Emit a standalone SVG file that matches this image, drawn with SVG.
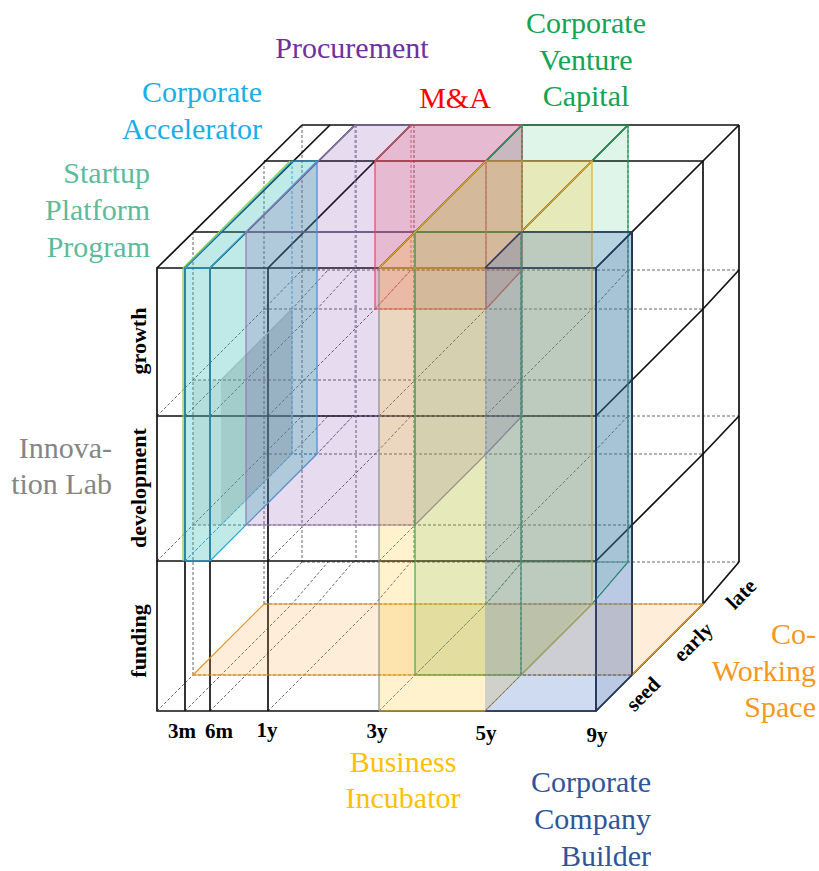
<svg xmlns="http://www.w3.org/2000/svg" width="819" height="871" viewBox="0 0 819 871">
  <style>
    .solid { fill: none; stroke: #111; stroke-width: 1.7; }
    .dash { fill: none; stroke: #555; stroke-width: 0.9; stroke-dasharray: 3 2; }
    .edge { fill: none; stroke-width: 1.2; }
    .hid { fill: none; stroke-width: 0.9; stroke-dasharray: 3 2; }
  </style>

  <rect width="819" height="871" fill="#ffffff"/>

  <!-- hidden grid lines (left, bottom, back and interior) -->
  <g id="grid-hidden" class="dash">
    <!-- left face verticals -->
    <path d="M193,232 V675 M264,161 V604 M302,125 V562"/>
    <!-- left face diagonals -->
    <path d="M157,416 L193,380 L264,309 L302,270 M157,561 L193,525 L264,454 L302,416 M157,711 L193,675 L264,604 L302,562"/>
    <!-- horizontals on the depth planes -->
    <path d="M193,380 H632 M193,525 H632 M193,675 H632"/>
    <path d="M264,309 H703 M264,454 H703 M264,604 H703"/>
    <path d="M302,270 H739 M302,416 H739 M302,562 H739"/>
    <!-- back face verticals -->
    <path d="M356,125 V562 M414,125 V562 M522,125 V562 M628,125 V562"/>
    <!-- interior diagonals -->
    <path d="M185,416 L221,380 L292,309 L328,270 M210,416 L246,380 L317,309 L353,270 M268,416 L304,380 L375,309 L411,270 M379,416 L415,380 L486,309 L522,270 M485,416 L521,380 L592,309 L628,270"/>
    <path d="M185,561 L221,525 L292,454 L328,416 M210,561 L246,525 L317,454 L353,416 M268,561 L304,525 L375,454 L411,416 M379,561 L415,525 L486,454 L522,416 M485,561 L521,525 L592,454 L628,416"/>
    <path d="M185,711 L221,675 L292,604 L328,562 M210,711 L246,675 L317,604 L353,562 M268,711 L304,675 L375,604 L411,562 M379,711 L415,675 L486,604 L522,562 M485,711 L521,675 L592,604 L628,562"/>
  </g>

  <!-- visible grid lines (front, top and right faces) -->
  <g id="grid-visible" class="solid">
    <path d="M157,268 H596 V711 H157 Z"/>
    <path d="M157,416 H596 M157,561 H596"/>
    <path d="M185,268 V711 M210,268 V711 M268,268 V711"/>
    <path d="M193,232 H632 M264,161 H703 M302,125 H739"/>
    <path d="M157,268 L302,125 M185,268 L330,125 M210,268 L355,125 M268,268 L411,125 M379,268 L522,125 M485,268 L628,125 M596,268 L739,125"/>
    <path d="M632,232 V675 M703,161 V604 M739,125 V562"/>
    <path d="M596,416 L632,380 L703,309 L739,270 M596,561 L632,525 L703,454 L739,416 M596,711 L632,675 L703,604 L739,562"/>
  </g>

  <!-- co-working space: floor plane of the early layer -->
  <g id="co-working-space">
    <path d="M193,675 H632 L703,604 H264 Z" fill="#f7a440" fill-opacity="0.2" stroke="#e8962a" stroke-width="1.2"/>
  </g>

  <!-- innovation lab: front and side panels -->
  <g id="innovation-lab" stroke="#c4c4c4">
    <path d="M193,380 H221 V525 H193 Z" fill="#8c8c8c" fill-opacity="0.14" stroke="none"/>
    <path d="M221,380 L292,309 V454 L221,525 Z" fill="#808080" fill-opacity="0.32" stroke="none"/>
    <path class="edge" d="M221,380 L292,309 V454 L221,525"/>
  </g>

  <!-- startup platform program -->
  <g id="startup-platform-program" stroke="#92d050">
    <path d="M183,268 L290,161 L317,161 L317,454 L210,561 L183,561 Z" fill="#40c090" fill-opacity="0.22" stroke="none"/>
    <path class="edge" d="M183,268 V561 M183,268 L290,161"/>
  </g>

  <!-- corporate accelerator -->
  <g id="corporate-accelerator" stroke="#2aa6dc">
    <path d="M185,268 L292,161 L317,161 L317,454 L210,561 L185,561 Z" fill="#00b0f0" fill-opacity="0.1" stroke="none"/>
    <path class="edge" d="M185,268 H210 V561 H185 Z M185,268 L292,161 H317 L210,268 M317,161 V454 L210,561"/>
    <path class="hid" d="M292,161 V454 H317 M185,561 L292,454"/>
  </g>

  <!-- procurement -->
  <g id="procurement" stroke="#8f7cb8">
    <path d="M246,232 L355,125 L522,125 L522,416 L415,525 L246,525 Z" fill="#7030a0" fill-opacity="0.17" stroke="none"/>
    <path class="edge" d="M246,232 H415 V525 H246 Z M246,232 L355,125 H522 L415,232 M522,125 V416 L486,454 L415,525"/>
    <path class="hid" d="M355,125 V416 H522 M246,525 L317,454 L353,416"/>
  </g>

  <!-- M&A -->
  <g id="m-and-a" stroke="#e04c5c">
    <path d="M375,161 L411,125 L522,125 L522,270 L486,309 L375,309 Z" fill="#e8325a" fill-opacity="0.2" stroke="none"/>
    <path class="edge" d="M375,161 H486 V309 H375 Z M375,161 L411,125 H522 L486,161 M522,125 V270 L486,309"/>
    <path class="hid" d="M411,125 V270 H522 M375,309 L411,270"/>
  </g>

  <!-- corporate venture capital -->
  <g id="corporate-venture-capital" stroke="#1f9e58">
    <path d="M415,232 L522,125 L628,125 L628,562 L521,675 L415,675 Z" fill="#00b050" fill-opacity="0.12" stroke="none"/>
    <path class="edge" d="M415,232 H521 V675 H415 Z M415,232 L522,125 H628 L521,232 M628,125 V562 L592,604 L521,675"/>
    <path class="hid" d="M522,125 V562 H628 M415,675 L486,604 L522,562"/>
  </g>

  <!-- business incubator -->
  <g id="business-incubator" stroke="#e2ad2e">
    <path d="M379,268 L486,161 L592,161 L592,604 L485,711 L379,711 Z" fill="#ffc000" fill-opacity="0.2" stroke="none"/>
    <path class="edge" d="M379,268 H485 M379,711 H485 M379,268 L486,161 H592 L485,268 M592,161 V604 L485,711"/>
    <path class="edge" d="M379,268 V711" stroke="#8e8e8e"/>
    <path class="hid" d="M486,161 V604 H592 M379,711 L486,604" stroke="#8a8a8a"/>
  </g>

  <!-- corporate company builder -->
  <g id="corporate-company-builder" stroke="#1f3864">
    <path d="M485,268 L521,232 L632,232 L632,675 L596,711 L485,711 Z" fill="#4472c4" fill-opacity="0.26" stroke="none"/>
    <path d="M596,268 L632,232 V675 L596,711 Z" fill="#2f5597" fill-opacity="0.12" stroke="none"/>
    <path class="edge" d="M485,268 H596 V711 H485 M485,268 L521,232 H632 L596,268 M632,232 V675 L596,711"/>
    <path class="hid" d="M521,232 V675 H632 M485,711 L521,675" stroke="#5a6f96"/>
  </g>

  <!-- axis labels -->
  <g id="axis-labels" font-family="Liberation Serif, Times New Roman, serif" font-size="21" font-weight="bold" fill="#000">
    <text x="182" y="738" text-anchor="middle">3m</text>
    <text x="219" y="738" text-anchor="middle">6m</text>
    <text x="267" y="737" text-anchor="middle">1y</text>
    <text x="377" y="738" text-anchor="middle">3y</text>
    <text x="486" y="740" text-anchor="middle">5y</text>
    <text x="597" y="742" text-anchor="middle">9y</text>
    <g font-size="22">
      <text transform="translate(146,341) rotate(-90)" text-anchor="middle">growth</text>
      <text transform="translate(146,488) rotate(-90)" text-anchor="middle">development</text>
      <text transform="translate(146,641) rotate(-90)" text-anchor="middle">funding</text>
    </g>
    <text transform="translate(648,699) rotate(-45)" text-anchor="middle">seed</text>
    <text transform="translate(698,647) rotate(-45)" text-anchor="middle">early</text>
    <text transform="translate(746,599) rotate(-45)" text-anchor="middle">late</text>
  </g>

  <!-- category labels -->
  <g id="category-labels" font-family="Liberation Serif, Times New Roman, serif" font-size="30">
    <text x="352" y="58" text-anchor="middle" fill="#7030a0">Procurement</text>
    <text x="262" y="102" text-anchor="end" fill="#1aaee6">Corporate</text>
    <text x="262" y="139" text-anchor="end" fill="#1aaee6">Accelerator</text>
    <text x="455" y="108" text-anchor="middle" fill="#ff0000">M&amp;A</text>
    <text x="586" y="33" text-anchor="middle" fill="#12a454">Corporate</text>
    <text x="586" y="70" text-anchor="middle" fill="#12a454">Venture</text>
    <text x="586" y="106" text-anchor="middle" fill="#12a454">Capital</text>
    <text x="150" y="183" text-anchor="end" fill="#5cbb9c">Startup</text>
    <text x="150" y="220" text-anchor="end" fill="#5cbb9c">Platform</text>
    <text x="150" y="257" text-anchor="end" fill="#5cbb9c">Program</text>
    <text x="112" y="458" text-anchor="end" fill="#858585">Innova-</text>
    <text x="112" y="494" text-anchor="end" fill="#858585">tion Lab</text>
    <text x="816" y="644" text-anchor="end" fill="#f5961e">Co-</text>
    <text x="816" y="681" text-anchor="end" fill="#f5961e">Working</text>
    <text x="816" y="717" text-anchor="end" fill="#f5961e">Space</text>
    <text x="403" y="772" text-anchor="middle" fill="#ffc000">Business</text>
    <text x="403" y="808" text-anchor="middle" fill="#ffc000">Incubator</text>
    <text x="651" y="792" text-anchor="end" fill="#2f5597">Corporate</text>
    <text x="651" y="829" text-anchor="end" fill="#2f5597">Company</text>
    <text x="651" y="866" text-anchor="end" fill="#2f5597">Builder</text>
  </g>
</svg>
